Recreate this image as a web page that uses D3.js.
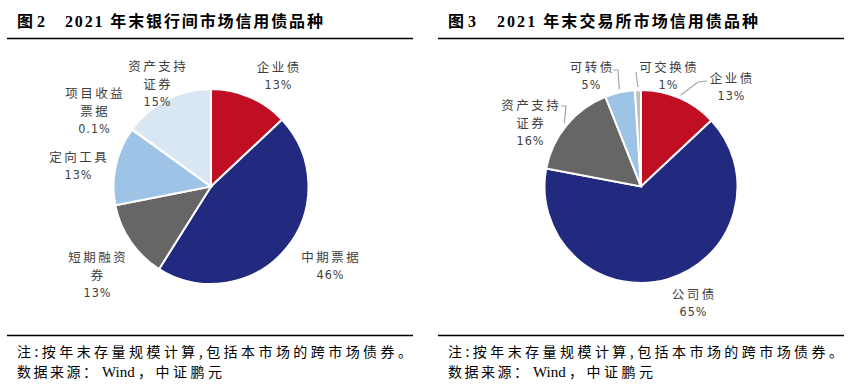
<!DOCTYPE html>
<html><head><meta charset="utf-8">
<script src="https://cdn.jsdelivr.net/npm/d3@7"></script>
<style>body{margin:0;background:#fff}svg{display:block}</style>
</head><body>
<svg id="c" width="851" height="389"></svg>
<script>
// ---- data ----
const leftCategories = ["企业债","中期票据","短期融资券","定向工具","项目收益票据","资产支持证券"];
const leftValues = [13, 46, 13, 13, 0.1, 15];
const leftLabels = ["13%","46%","13%","13%","0.1%","15%"];
const rightCategories = ["企业债","公司债","资产支持证券","可转债","可交换债"];
const rightValues = [13, 65, 16, 5, 1];
const rightLabels = ["13%","65%","16%","5%","1%"];

// ---- layout / styles ----
const leftColors = ["#C00F22","#212A7F","#666666","#9DC3E6","#9DC3E6","#D9E6F4"];
const rightColors = ["#C00F22","#212A7F","#666666","#9DC3E6","#BFBFBF"];
const leftLayout = [
  {lines:["企业债"], x:278, y:66},
  {lines:["中期票据"], x:330, y:256},
  {lines:["短期融资","券"], x:97, y:256},
  {lines:["定向工具"], x:78, y:156},
  {lines:["项目收益","票据"], x:94, y:92},
  {lines:["资产支持","证券"], x:157, y:65}
];
const rightLayout = [
  {lines:["企业债"], x:731, y:77, leader:[[707,81],[698,82]]},
  {lines:["公司债"], x:693, y:293},
  {lines:["资产支持","证券"], x:530, y:104, leader:[[561,106],[566,106]]},
  {lines:["可转债"], x:591, y:66, leader:[[613,70],[618,70]]},
  {lines:["可交换债"], x:668, y:66, leader:[[636,72]]}
];

const svg = d3.select("#c");
const CJK = "'Noto Sans CJK SC','Noto Sans',sans-serif";

function drawPie(cx, cy, r, values, colors, cats, pcts, layout) {
  const pie = d3.pie().sort(null).value(d => d);
  const arcs = pie(values);
  const arc = d3.arc().innerRadius(0).outerRadius(r);
  const g = svg.append("g").attr("transform", `translate(${cx},${cy})`);
  g.selectAll("path").data(arcs).join("path")
    .attr("d", arc)
    .attr("fill", (d,i) => colors[i])
    .attr("stroke", "#fff").attr("stroke-width", 2).attr("stroke-linejoin","miter");
  const outer = d3.arc().innerRadius(r + 3).outerRadius(r + 3);
  arcs.forEach((a, i) => {
    const L = layout[i];
    if (!L.leader) return;
    const p = outer.centroid(a);
    const pts = L.leader.concat([[cx + p[0], cy + p[1]]]);
    svg.append("path").attr("d", d3.line()(pts))
      .attr("fill","none").attr("stroke","#A6A6A6").attr("stroke-width",1.2);
  });
  arcs.forEach((a, i) => {
    const L = layout[i];
    const t = svg.append("text").attr("text-anchor","middle")
      .attr("font-family", CJK).attr("font-size", 12.5).attr("fill","#404040");
    L.lines.forEach((ln, k) => {
      t.append("tspan").attr("x", L.x + 1.2).attr("y", L.y + k*18)
        .attr("dominant-baseline","central").attr("letter-spacing", 2.5).text(ln);
    });
    t.append("tspan").attr("x", L.x + 0.5).attr("y", L.y + L.lines.length*18)
      .attr("dominant-baseline","central").attr("letter-spacing", 1)
      .attr("font-family","'Liberation Sans Narrow','DejaVu Sans Condensed',sans-serif")
      .attr("font-size", 12.5).text(pcts[i]);
  });
}

drawPie(211, 186.5, 97.5, leftValues, leftColors, leftCategories, leftLabels, leftLayout);
drawPie(641, 186.5, 96.5, rightValues, rightColors, rightCategories, rightLabels, rightLayout);

function fitText(x, y, w, str, family, size) {
  return svg.append("text").attr("x", x).attr("y", y).attr("font-family", family)
    .attr("font-size", size).attr("fill", "#000")
    .attr("textLength", w).attr("lengthAdjust", "spacing").text(str);
}

function panel(x0, x1, fig, title, titleX, titleEnd) {
  svg.append("text").attr("x", x0 + 10).attr("y", 27).attr("font-family","'Liberation Serif',"+CJK)
    .attr("font-weight","bold").attr("font-size",16).text(fig);
  svg.append("text").attr("font-family","'Liberation Serif',"+CJK)
    .attr("font-weight","bold").attr("font-size",16).attr("fill","#000")
    .attr("x", titleX).attr("y", 27).attr("textLength", titleEnd - titleX)
    .attr("lengthAdjust","spacing").text(title);
  svg.append("line").attr("x1", x0).attr("x2", x1).attr("y1", 38.5).attr("y2", 38.5)
    .attr("stroke","#000").attr("stroke-width",1.3);
  svg.append("line").attr("x1", x0).attr("x2", x1).attr("y1", 335.5).attr("y2", 335.5)
    .attr("stroke","#000").attr("stroke-width",1.3);
  fitText(x0 + 10, 357, 395, "注:按年末存量规模计算,包括本市场的跨市场债券。", CJK, 14);
  fitText(x0 + 10, 377, 80, "数据来源：", CJK, 14);
  svg.append("text").attr("x", x0 + 95).attr("y", 377)
    .attr("font-family","'Liberation Serif',serif").attr("font-size",15).text("Wind");
  fitText(x0 + 131, 377, 84, "，中证鹏元", CJK, 14);
}
panel(7, 413, "图 2", "2021 年末银行间市场信用债品种", 65, 323);
panel(438, 844, "图 3", "2021 年末交易所市场信用债品种", 497, 758);
</script>
</body></html>
